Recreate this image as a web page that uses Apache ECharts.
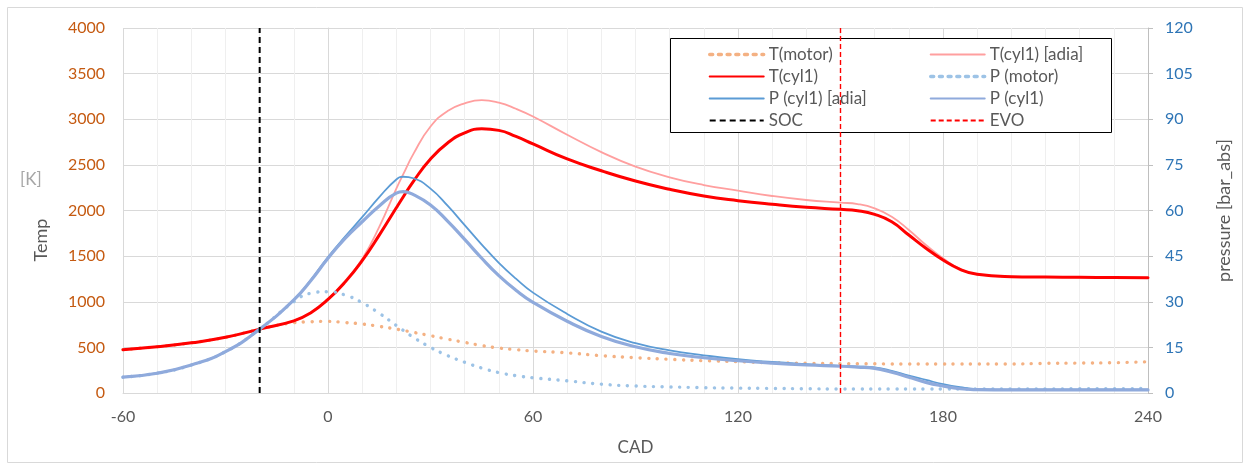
<!DOCTYPE html>
<html>
<head>
<meta charset="utf-8">
<title>Temp / pressure vs CAD</title>
<script src="https://cdn.jsdelivr.net/npm/echarts@6/dist/echarts.min.js"></script>
<style>
  html, body { margin: 0; padding: 0; background: #fff; }
  #chart { width: 1250px; height: 470px; }
</style>
</head>
<body>
<div id="chart"></div>
<script>
  // crank angle (deg)
  var cad = [-60, -50, -40, -30, -20, -10, -5, 0, 5, 10, 15, 20, 22, 25, 30, 35, 40, 45, 50, 55, 60,
    70, 80, 90, 100, 110, 120, 130, 140, 150, 155, 160, 165, 170, 175, 180, 185, 190, 200, 210, 220, 230, 240];

  // temperatures [K]
  var tMotor = [475, 507, 550, 610, 700, 770, 781, 785, 772, 756, 730, 700, 686, 665, 628, 590, 555, 520, 493, 475, 460,
    440, 409, 387, 369, 354, 343, 332, 326, 322, 320, 320, 318, 318, 318, 318, 318, 318, 318, 325, 328, 332, 343];
  var tCyl = [475, 507, 550, 610, 700, 790, 880, 1025, 1215, 1450, 1730, 2030, 2148, 2320, 2565, 2740, 2850, 2895, 2878, 2812, 2730,
    2565, 2436, 2323, 2232, 2159, 2108, 2068, 2035, 2013, 1998, 1958, 1877, 1731, 1586, 1458, 1356, 1301, 1275, 1271, 1268, 1265, 1262];
  var tAdia = [475, 507, 550, 610, 700, 790, 882, 1030, 1228, 1470, 1820, 2240, 2395, 2620, 2920, 3090, 3175, 3210, 3182, 3115, 3030,
    2830, 2640, 2480, 2364, 2279, 2217, 2159, 2115, 2086, 2071, 2024, 1932, 1786, 1622, 1476, 1360, 1301, 1275, 1271, 1268, 1265, 1262];

  // pressures [bar_abs]
  var pMotor = [5.2, 6.5, 9.2, 13.6, 21.0, 30.0, 32.8, 33.3, 32.2, 29.7, 26.2, 22.2, 20.6, 18.3, 15.0, 12.3, 10.1, 8.2, 6.7, 5.7, 5.0,
    4.0, 2.9, 2.3, 2.0, 1.75, 1.6, 1.5, 1.4, 1.3, 1.3, 1.3, 1.3, 1.3, 1.3, 1.3, 1.3, 1.3, 1.3, 1.3, 1.4, 1.4, 1.5];
  var pCyl = [5.2, 6.5, 9.2, 13.6, 21.0, 30.6, 37.0, 44.3, 50.8, 56.3, 61.5, 65.7, 66.2, 65.2, 61.8, 56.5, 50.5, 44.3, 38.6, 33.8, 29.8,
    23.6, 18.6, 15.2, 13.0, 11.6, 10.6, 9.8, 9.2, 8.8, 8.5, 8.1, 6.8, 5.2, 3.5, 2.3, 1.4, 1.1, 1.0, 1.0, 1.0, 1.0, 1.0];
  var pAdia = [5.2, 6.5, 9.2, 13.6, 21.0, 30.6, 37.2, 44.7, 51.4, 57.8, 64.4, 70.2, 71.1, 70.6, 67.2, 61.6, 55.2, 48.8, 42.8, 37.6, 33.0,
    26.0, 20.2, 16.4, 14.0, 12.4, 11.1, 10.2, 9.5, 8.9, 8.7, 8.4, 7.3, 5.7, 4.3, 2.9, 1.9, 1.3, 1.1, 1.1, 1.1, 1.1, 1.1];

  // events
  var socCad = -20;
  var evoCad = 150;

  var font = 'Lato';

  function pairs(vals) {
    var out = [];
    for (var i = 0; i < cad.length; i++) out.push([cad[i], vals[i]]);
    return out;
  }

  function curve(name, vals, axis, color, width, type) {
    return {
      name: name,
      type: 'line',
      yAxisIndex: axis,
      data: pairs(vals),
      showSymbol: false,
      symbol: 'none',
      smooth: 0.5,
      lineStyle: { color: color, width: width, type: type || 'solid', cap: 'round' },
      itemStyle: { color: color }
    };
  }

  function vline(name, x, color, width, dash) {
    return {
      name: name,
      type: 'line',
      yAxisIndex: 0,
      data: [[x, 0], [x, 4000]],
      showSymbol: false,
      symbol: 'none',
      lineStyle: { color: color, width: width, type: dash },
      itemStyle: { color: color }
    };
  }

  var dots = [0.1, 8.6];
  var plain = function (v) { return String(v); };
  // the legend does not round the dash caps, so give the dotted icons short dashes
  var dotIcon = { type: [3, 5.7], width: 3.4 };

  // two legend columns, filled row by row like the original
  var legendBase = {
    orient: 'vertical', top: 41,
    itemWidth: 54, itemHeight: 14, itemGap: 5,
    itemStyle: { opacity: 0 },
    textStyle: { fontFamily: font, fontSize: 17, color: '#595959' },
    selectedMode: false
  };

  var chart = echarts.init(document.getElementById('chart'));
  chart.setOption({
    animation: false,
    textStyle: { fontFamily: font },
    grid: { left: 123, right: 102, top: 28, bottom: 77 },
    legend: [
      Object.assign({
        data: [{ name: 'T(motor)', lineStyle: dotIcon }, 'T(cyl1)', 'P (cyl1) [adia]', 'SOC'],
        left: 703
      }, legendBase),
      Object.assign({
        data: ['T(cyl1) [adia]', { name: 'P (motor)', lineStyle: dotIcon }, 'P (cyl1)', 'EVO'],
        left: 924
      }, legendBase)
    ],
    xAxis: {
      type: 'value', min: -60, max: 240, interval: 60,
      name: 'CAD', nameLocation: 'middle', nameGap: 46,
      nameTextStyle: { fontFamily: font, fontSize: 17, color: '#595959' },
      axisLine: { lineStyle: { color: '#d9d9d9' } },
      axisTick: { show: false },
      axisLabel: { margin: 16, fontFamily: font, fontSize: 16, color: '#595959', formatter: plain },
      splitLine: { show: true, lineStyle: { color: '#d9d9d9' } },
      minorTick: { show: false, splitNumber: 6 },
      minorSplitLine: { show: true, lineStyle: { color: '#efefef' } }
    },
    yAxis: [{
      type: 'value', min: 0, max: 4000, interval: 500,
      axisLine: { show: true, lineStyle: { color: '#d9d9d9' } },
      axisTick: { show: false },
      axisLabel: { margin: 18, fontFamily: font, fontSize: 16, color: '#c55a11', formatter: plain },
      splitLine: { show: true, lineStyle: { color: '#d9d9d9' } }
    }, {
      type: 'value', min: 0, max: 120, interval: 15, position: 'right',
      name: 'pressure [bar_abs]', nameLocation: 'middle', nameRotate: 90, nameGap: 67,
      nameTextStyle: { fontFamily: font, fontSize: 18, color: '#595959' },
      axisLine: { show: true, lineStyle: { color: '#bfbfbf' } },
      axisTick: { show: true, length: 5, lineStyle: { color: '#bfbfbf' } },
      axisLabel: { margin: 17, fontFamily: font, fontSize: 16, color: '#2e75b6', formatter: plain },
      splitLine: { show: false }
    }],
    graphic: [
      { type: 'rect', z: -1, silent: true,
        shape: { x: 7.5, y: 7.5, width: 1235, height: 455 },
        style: { fill: 'none', stroke: '#d9d9d9', lineWidth: 1 } },
      // legend box sits above the curves (hides the EVO line)
      { type: 'rect', z: 3, silent: true,
        shape: { x: 670.5, y: 38.5, width: 441, height: 94 },
        style: { fill: '#fff', stroke: '#000', lineWidth: 1 } },
      { type: 'text', left: 20, top: 171, silent: true,
        style: { text: '[K]', fill: '#a6a6a6', font: '17px ' + font } },
      { type: 'text', x: 41, y: 240, rotation: Math.PI / 2, silent: true,
        style: { text: 'Temp', fill: '#595959', font: '18px ' + font, align: 'center', verticalAlign: 'middle' } }
    ],
    series: [
      curve('T(motor)', tMotor, 0, '#f4b183', 3.4, dots),
      curve('T(cyl1) [adia]', tAdia, 0, '#ff9f9f', 1.8),
      curve('T(cyl1)', tCyl, 0, '#ff0000', 3),
      curve('P (motor)', pMotor, 1, '#9dc3e6', 3.4, dots),
      curve('P (cyl1) [adia]', pAdia, 1, '#5b9bd5', 1.8),
      curve('P (cyl1)', pCyl, 1, '#8faadc', 3.2),
      vline('SOC', socCad, '#000000', 2, [6, 4]),
      vline('EVO', evoCad, '#ff0000', 1.4, [5, 3])
    ]
  });
</script>
</body>
</html>
